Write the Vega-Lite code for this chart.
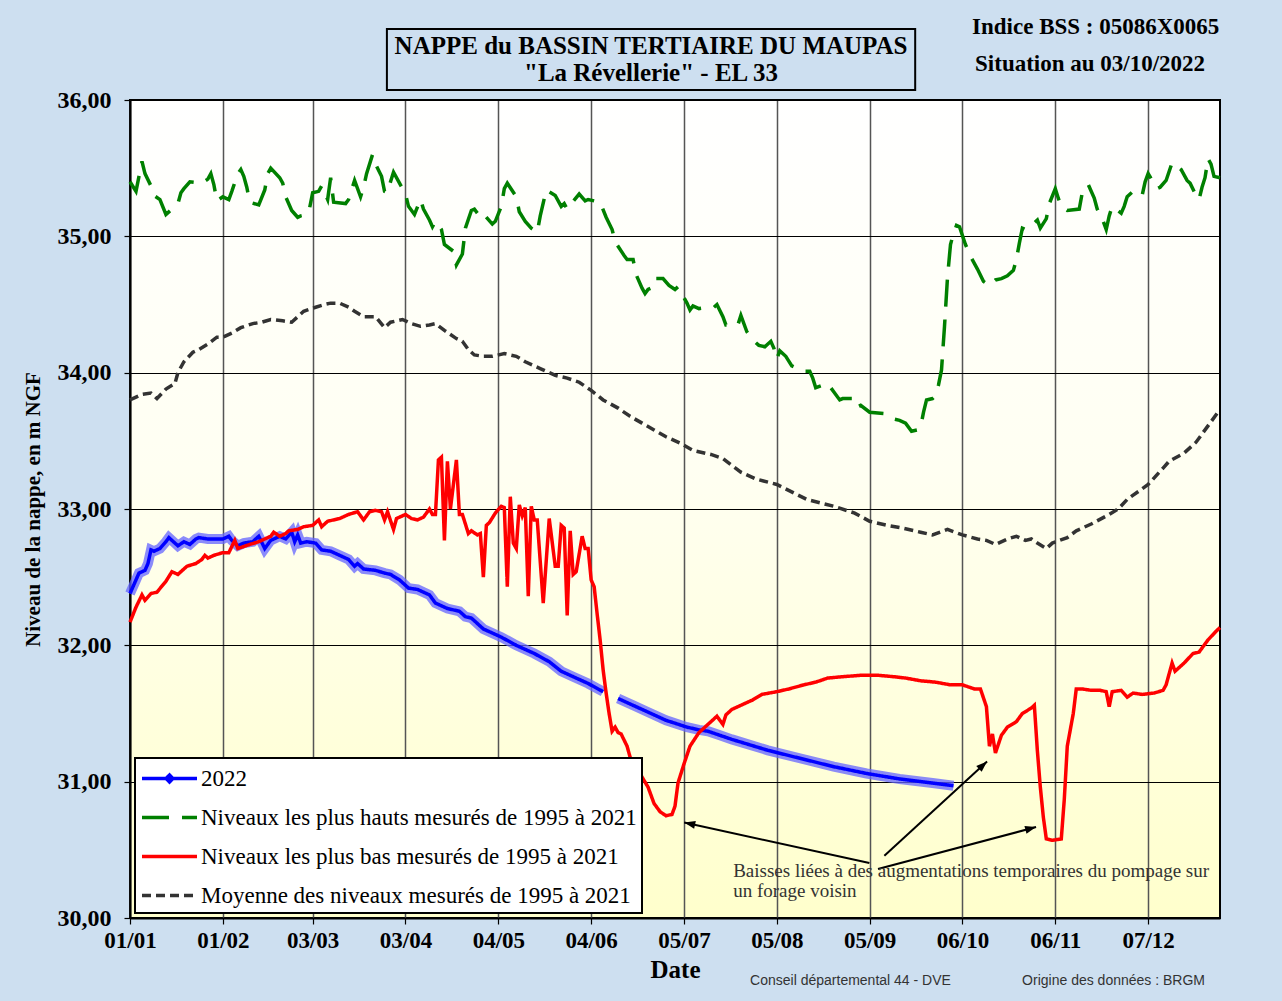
{
"$schema": "https://vega.github.io/schema/vega-lite/v6.json",
"width": 1090, "height": 818,
"autosize": {"type": "none"},
"padding": {"left": 130, "top": 100, "right": 62, "bottom": 83},
"background": "#cddff0",
"config": {
  "font": "Liberation Serif",
  "view": {"stroke": "#000000", "strokeWidth": 2, "fill": {"gradient": "linear", "x1": 0, "y1": 0, "x2": 0, "y2": 1, "stops": [{"offset": 0, "color": "#ffffff"}, {"offset": 0.45, "color": "#fffff2"}, {"offset": 1, "color": "#ffffcc"}]}},
  "axis": {"labelFont": "Liberation Serif", "labelFontWeight": "bold", "labelColor": "#000000", "titleFont": "Liberation Serif", "titleFontWeight": "bold", "titleColor": "#000000", "domainColor": "#000000", "domainWidth": 2, "tickColor": "#000000", "tickSize": 6, "tickWidth": 1.2},
  "legend": {"orient": "bottom-left", "offset": 5, "fillColor": "#ffffff", "strokeColor": "#000000", "padding": 5, "labelFont": "Liberation Serif", "labelFontSize": 23, "labelColor": "#000000", "labelLimit": 700, "symbolType": "M-2,0H2", "symbolSize": 756, "symbolStrokeWidth": 3.5, "symbolOffset": 14, "labelOffset": 16, "rowPadding": 11}
},
"data": {"values": [
{"serie":"2022","date":"2022-01-01","niveau":32.38},{"serie":"2022","date":"2022-01-03","niveau":32.48},{"serie":"2022","date":"2022-01-04","niveau":32.53},{"serie":"2022","date":"2022-01-06","niveau":32.55},{"serie":"2022","date":"2022-01-07","niveau":32.60},{"serie":"2022","date":"2022-01-08","niveau":32.70},{"serie":"2022","date":"2022-01-09","niveau":32.69},{"serie":"2022","date":"2022-01-11","niveau":32.71},{"serie":"2022","date":"2022-01-13","niveau":32.76},{"serie":"2022","date":"2022-01-14","niveau":32.79},{"serie":"2022","date":"2022-01-16","niveau":32.75},{"serie":"2022","date":"2022-01-17","niveau":32.73},{"serie":"2022","date":"2022-01-19","niveau":32.76},{"serie":"2022","date":"2022-01-21","niveau":32.74},{"serie":"2022","date":"2022-01-23","niveau":32.78},{"serie":"2022","date":"2022-01-24","niveau":32.79},{"serie":"2022","date":"2022-01-27","niveau":32.78},{"serie":"2022","date":"2022-01-30","niveau":32.78},{"serie":"2022","date":"2022-02-01","niveau":32.78},{"serie":"2022","date":"2022-02-03","niveau":32.80},{"serie":"2022","date":"2022-02-04","niveau":32.77},{"serie":"2022","date":"2022-02-06","niveau":32.73},{"serie":"2022","date":"2022-02-08","niveau":32.75},{"serie":"2022","date":"2022-02-11","niveau":32.76},{"serie":"2022","date":"2022-02-13","niveau":32.80},{"serie":"2022","date":"2022-02-15","niveau":32.71},{"serie":"2022","date":"2022-02-17","niveau":32.77},{"serie":"2022","date":"2022-02-20","niveau":32.80},{"serie":"2022","date":"2022-02-22","niveau":32.78},{"serie":"2022","date":"2022-02-24","niveau":32.83},{"serie":"2022","date":"2022-02-25","niveau":32.76},{"serie":"2022","date":"2022-02-26","niveau":32.81},{"serie":"2022","date":"2022-02-27","niveau":32.75},{"serie":"2022","date":"2022-03-01","niveau":32.76},{"serie":"2022","date":"2022-03-04","niveau":32.75},{"serie":"2022","date":"2022-03-06","niveau":32.70},{"serie":"2022","date":"2022-03-09","niveau":32.69},{"serie":"2022","date":"2022-03-12","niveau":32.66},{"serie":"2022","date":"2022-03-15","niveau":32.63},{"serie":"2022","date":"2022-03-17","niveau":32.58},{"serie":"2022","date":"2022-03-18","niveau":32.60},{"serie":"2022","date":"2022-03-20","niveau":32.56},{"serie":"2022","date":"2022-03-24","niveau":32.55},{"serie":"2022","date":"2022-03-27","niveau":32.53},{"serie":"2022","date":"2022-03-29","niveau":32.52},{"serie":"2022","date":"2022-04-01","niveau":32.48},{"serie":"2022","date":"2022-04-04","niveau":32.42},{"serie":"2022","date":"2022-04-07","niveau":32.41},{"serie":"2022","date":"2022-04-11","niveau":32.37},{"serie":"2022","date":"2022-04-13","niveau":32.31},{"serie":"2022","date":"2022-04-17","niveau":32.27},{"serie":"2022","date":"2022-04-21","niveau":32.25},{"serie":"2022","date":"2022-04-23","niveau":32.21},{"serie":"2022","date":"2022-04-25","niveau":32.20},{"serie":"2022","date":"2022-04-29","niveau":32.12},{"serie":"2022","date":"2022-05-05","niveau":32.06},{"serie":"2022","date":"2022-05-10","niveau":32.00},{"serie":"2022","date":"2022-05-16","niveau":31.94},{"serie":"2022","date":"2022-05-21","niveau":31.88},{"serie":"2022","date":"2022-05-25","niveau":31.81},{"serie":"2022","date":"2022-05-29","niveau":31.77},{"serie":"2022","date":"2022-06-03","niveau":31.72},{"serie":"2022","date":"2022-06-08","niveau":31.66},{"serie":"2022","date":"2022-06-10","niveau":null},{"serie":"2022","date":"2022-06-13","niveau":31.61},{"serie":"2022","date":"2022-06-18","niveau":31.56},{"serie":"2022","date":"2022-06-24","niveau":31.50},{"serie":"2022","date":"2022-06-29","niveau":31.45},{"serie":"2022","date":"2022-07-06","niveau":31.40},{"serie":"2022","date":"2022-07-10","niveau":31.38},{"serie":"2022","date":"2022-07-13","niveau":31.37},{"serie":"2022","date":"2022-07-17","niveau":31.34},{"serie":"2022","date":"2022-07-21","niveau":31.31},{"serie":"2022","date":"2022-08-02","niveau":31.23},{"serie":"2022","date":"2022-08-13","niveau":31.17},{"serie":"2022","date":"2022-08-24","niveau":31.11},{"serie":"2022","date":"2022-09-04","niveau":31.06},{"serie":"2022","date":"2022-09-15","niveau":31.02},{"serie":"2022","date":"2022-09-26","niveau":30.99},{"serie":"2022","date":"2022-10-03","niveau":30.97},
{"serie":"max","date":"2022-01-01","niveau":35.40},{"serie":"max","date":"2022-01-03","niveau":35.33},{"serie":"max","date":"2022-01-04","niveau":35.44},{"serie":"max","date":"2022-01-05","niveau":35.55},{"serie":"max","date":"2022-01-06","niveau":35.46},{"serie":"max","date":"2022-01-08","niveau":35.37},{"serie":"max","date":"2022-01-09","niveau":35.30},{"serie":"max","date":"2022-01-11","niveau":35.27},{"serie":"max","date":"2022-01-13","niveau":35.16},{"serie":"max","date":"2022-01-17","niveau":35.24},{"serie":"max","date":"2022-01-18","niveau":35.32},{"serie":"max","date":"2022-01-19","niveau":35.35},{"serie":"max","date":"2022-01-21","niveau":35.40},{"serie":"max","date":"2022-01-25","niveau":35.39},{"serie":"max","date":"2022-01-27","niveau":35.42},{"serie":"max","date":"2022-01-28","niveau":35.46},{"serie":"max","date":"2022-01-29","niveau":35.38},{"serie":"max","date":"2022-01-30","niveau":35.26},{"serie":"max","date":"2022-02-01","niveau":35.29},{"serie":"max","date":"2022-02-03","niveau":35.27},{"serie":"max","date":"2022-02-04","niveau":35.33},{"serie":"max","date":"2022-02-06","niveau":35.46},{"serie":"max","date":"2022-02-07","niveau":35.49},{"serie":"max","date":"2022-02-08","niveau":35.44},{"serie":"max","date":"2022-02-09","niveau":35.36},{"serie":"max","date":"2022-02-10","niveau":35.25},{"serie":"max","date":"2022-02-13","niveau":35.23},{"serie":"max","date":"2022-02-15","niveau":35.34},{"serie":"max","date":"2022-02-16","niveau":35.46},{"serie":"max","date":"2022-02-17","niveau":35.50},{"serie":"max","date":"2022-02-20","niveau":35.43},{"serie":"max","date":"2022-02-21","niveau":35.39},{"serie":"max","date":"2022-02-22","niveau":35.29},{"serie":"max","date":"2022-02-24","niveau":35.19},{"serie":"max","date":"2022-02-26","niveau":35.14},{"serie":"max","date":"2022-02-27","niveau":35.15},{"serie":"max","date":"2022-03-01","niveau":35.16},{"serie":"max","date":"2022-03-02","niveau":35.21},{"serie":"max","date":"2022-03-03","niveau":35.32},{"serie":"max","date":"2022-03-05","niveau":35.33},{"serie":"max","date":"2022-03-06","niveau":35.37},{"serie":"max","date":"2022-03-08","niveau":35.27},{"serie":"max","date":"2022-03-09","niveau":35.43},{"serie":"max","date":"2022-03-10","niveau":35.25},{"serie":"max","date":"2022-03-14","niveau":35.24},{"serie":"max","date":"2022-03-15","niveau":35.27},{"serie":"max","date":"2022-03-17","niveau":35.41},{"serie":"max","date":"2022-03-19","niveau":35.29},{"serie":"max","date":"2022-03-20","niveau":35.36},{"serie":"max","date":"2022-03-21","niveau":35.46},{"serie":"max","date":"2022-03-23","niveau":35.60},{"serie":"max","date":"2022-03-24","niveau":35.53},{"serie":"max","date":"2022-03-26","niveau":35.44},{"serie":"max","date":"2022-03-27","niveau":35.33},{"serie":"max","date":"2022-03-28","niveau":35.32},{"serie":"max","date":"2022-03-29","niveau":35.40},{"serie":"max","date":"2022-03-30","niveau":35.47},{"serie":"max","date":"2022-04-01","niveau":35.39},{"serie":"max","date":"2022-04-03","niveau":35.31},{"serie":"max","date":"2022-04-04","niveau":35.22},{"serie":"max","date":"2022-04-06","niveau":35.16},{"serie":"max","date":"2022-04-08","niveau":35.27},{"serie":"max","date":"2022-04-09","niveau":35.20},{"serie":"max","date":"2022-04-11","niveau":35.12},{"serie":"max","date":"2022-04-12","niveau":35.07},{"serie":"max","date":"2022-04-13","niveau":35.11},{"serie":"max","date":"2022-04-15","niveau":35.05},{"serie":"max","date":"2022-04-16","niveau":34.94},{"serie":"max","date":"2022-04-19","niveau":34.89},{"serie":"max","date":"2022-04-20","niveau":34.79},{"serie":"max","date":"2022-04-22","niveau":34.87},{"serie":"max","date":"2022-04-23","niveau":35.06},{"serie":"max","date":"2022-04-25","niveau":35.19},{"serie":"max","date":"2022-04-26","niveau":35.20},{"serie":"max","date":"2022-04-27","niveau":35.17},{"serie":"max","date":"2022-04-28","niveau":35.19},{"serie":"max","date":"2022-05-02","niveau":35.09},{"serie":"max","date":"2022-05-03","niveau":35.11},{"serie":"max","date":"2022-05-05","niveau":35.22},{"serie":"max","date":"2022-05-06","niveau":35.35},{"serie":"max","date":"2022-05-07","niveau":35.39},{"serie":"max","date":"2022-05-10","niveau":35.29},{"serie":"max","date":"2022-05-11","niveau":35.18},{"serie":"max","date":"2022-05-13","niveau":35.11},{"serie":"max","date":"2022-05-15","niveau":35.06},{"serie":"max","date":"2022-05-17","niveau":35.03},{"serie":"max","date":"2022-05-18","niveau":35.15},{"serie":"max","date":"2022-05-20","niveau":35.34},{"serie":"max","date":"2022-05-23","niveau":35.30},{"serie":"max","date":"2022-05-25","niveau":35.22},{"serie":"max","date":"2022-05-26","niveau":35.24},{"serie":"max","date":"2022-05-27","niveau":35.20},{"serie":"max","date":"2022-05-28","niveau":35.23},{"serie":"max","date":"2022-05-31","niveau":35.31},{"serie":"max","date":"2022-06-02","niveau":35.26},{"serie":"max","date":"2022-06-03","niveau":35.27},{"serie":"max","date":"2022-06-07","niveau":35.25},{"serie":"max","date":"2022-06-09","niveau":35.14},{"serie":"max","date":"2022-06-11","niveau":35.05},{"serie":"max","date":"2022-06-12","niveau":34.96},{"serie":"max","date":"2022-06-15","niveau":34.86},{"serie":"max","date":"2022-06-16","niveau":34.83},{"serie":"max","date":"2022-06-18","niveau":34.83},{"serie":"max","date":"2022-06-19","niveau":34.72},{"serie":"max","date":"2022-06-21","niveau":34.62},{"serie":"max","date":"2022-06-22","niveau":34.58},{"serie":"max","date":"2022-06-23","niveau":34.61},{"serie":"max","date":"2022-06-24","niveau":34.62},{"serie":"max","date":"2022-06-25","niveau":34.69},{"serie":"max","date":"2022-06-28","niveau":34.69},{"serie":"max","date":"2022-06-30","niveau":34.64},{"serie":"max","date":"2022-07-02","niveau":34.61},{"serie":"max","date":"2022-07-03","niveau":34.63},{"serie":"max","date":"2022-07-04","niveau":34.59},{"serie":"max","date":"2022-07-06","niveau":34.51},{"serie":"max","date":"2022-07-07","niveau":34.46},{"serie":"max","date":"2022-07-08","niveau":34.49},{"serie":"max","date":"2022-07-10","niveau":34.47},{"serie":"max","date":"2022-07-13","niveau":34.48},{"serie":"max","date":"2022-07-15","niveau":34.48},{"serie":"max","date":"2022-07-16","niveau":34.50},{"serie":"max","date":"2022-07-18","niveau":34.41},{"serie":"max","date":"2022-07-19","niveau":34.35},{"serie":"max","date":"2022-07-23","niveau":34.35},{"serie":"max","date":"2022-07-24","niveau":34.42},{"serie":"max","date":"2022-07-26","niveau":34.30},{"serie":"max","date":"2022-07-28","niveau":34.24},{"serie":"max","date":"2022-07-30","niveau":34.20},{"serie":"max","date":"2022-08-01","niveau":34.19},{"serie":"max","date":"2022-08-03","niveau":34.23},{"serie":"max","date":"2022-08-04","niveau":34.18},{"serie":"max","date":"2022-08-05","niveau":34.10},{"serie":"max","date":"2022-08-06","niveau":34.16},{"serie":"max","date":"2022-08-08","niveau":34.12},{"serie":"max","date":"2022-08-10","niveau":34.05},{"serie":"max","date":"2022-08-14","niveau":34.01},{"serie":"max","date":"2022-08-16","niveau":34.01},{"serie":"max","date":"2022-08-17","niveau":33.96},{"serie":"max","date":"2022-08-18","niveau":33.89},{"serie":"max","date":"2022-08-22","niveau":33.92},{"serie":"max","date":"2022-08-24","niveau":33.86},{"serie":"max","date":"2022-08-26","niveau":33.80},{"serie":"max","date":"2022-08-27","niveau":33.81},{"serie":"max","date":"2022-08-31","niveau":33.81},{"serie":"max","date":"2022-09-01","niveau":33.75},{"serie":"max","date":"2022-09-02","niveau":33.76},{"serie":"max","date":"2022-09-05","niveau":33.71},{"serie":"max","date":"2022-09-10","niveau":33.70},{"serie":"max","date":"2022-09-13","niveau":33.66},{"serie":"max","date":"2022-09-15","niveau":33.65},{"serie":"max","date":"2022-09-17","niveau":33.63},{"serie":"max","date":"2022-09-19","niveau":33.57},{"serie":"max","date":"2022-09-21","niveau":33.58},{"serie":"max","date":"2022-09-22","niveau":33.60},{"serie":"max","date":"2022-09-23","niveau":33.71},{"serie":"max","date":"2022-09-24","niveau":33.80},{"serie":"max","date":"2022-09-26","niveau":33.81},{"serie":"max","date":"2022-09-27","niveau":33.83},{"serie":"max","date":"2022-09-28","niveau":33.91},{"serie":"max","date":"2022-09-29","niveau":34.02},{"serie":"max","date":"2022-09-30","niveau":34.34},{"serie":"max","date":"2022-10-01","niveau":34.70},{"serie":"max","date":"2022-10-02","niveau":34.94},{"serie":"max","date":"2022-10-03","niveau":35.02},{"serie":"max","date":"2022-10-04","niveau":35.08},{"serie":"max","date":"2022-10-05","niveau":35.07},{"serie":"max","date":"2022-10-07","niveau":34.94},{"serie":"max","date":"2022-10-09","niveau":34.84},{"serie":"max","date":"2022-10-11","niveau":34.76},{"serie":"max","date":"2022-10-13","niveau":34.67},{"serie":"max","date":"2022-10-15","niveau":34.64},{"serie":"max","date":"2022-10-17","niveau":34.68},{"serie":"max","date":"2022-10-19","niveau":34.69},{"serie":"max","date":"2022-10-21","niveau":34.71},{"serie":"max","date":"2022-10-23","niveau":34.75},{"serie":"max","date":"2022-10-24","niveau":34.83},{"serie":"max","date":"2022-10-25","niveau":34.95},{"serie":"max","date":"2022-10-26","niveau":35.06},{"serie":"max","date":"2022-10-27","niveau":35.05},{"serie":"max","date":"2022-10-29","niveau":35.08},{"serie":"max","date":"2022-10-31","niveau":35.12},{"serie":"max","date":"2022-11-01","niveau":35.06},{"serie":"max","date":"2022-11-03","niveau":35.13},{"serie":"max","date":"2022-11-04","niveau":35.24},{"serie":"max","date":"2022-11-06","niveau":35.35},{"serie":"max","date":"2022-11-07","niveau":35.28},{"serie":"max","date":"2022-11-08","niveau":35.22},{"serie":"max","date":"2022-11-10","niveau":35.19},{"serie":"max","date":"2022-11-14","niveau":35.20},{"serie":"max","date":"2022-11-15","niveau":35.32},{"serie":"max","date":"2022-11-17","niveau":35.38},{"serie":"max","date":"2022-11-19","niveau":35.28},{"serie":"max","date":"2022-11-20","niveau":35.20},{"serie":"max","date":"2022-11-22","niveau":35.11},{"serie":"max","date":"2022-11-23","niveau":35.05},{"serie":"max","date":"2022-11-24","niveau":35.15},{"serie":"max","date":"2022-11-25","niveau":35.22},{"serie":"max","date":"2022-11-28","niveau":35.17},{"serie":"max","date":"2022-11-29","niveau":35.22},{"serie":"max","date":"2022-11-30","niveau":35.29},{"serie":"max","date":"2022-12-02","niveau":35.33},{"serie":"max","date":"2022-12-05","niveau":35.30},{"serie":"max","date":"2022-12-06","niveau":35.40},{"serie":"max","date":"2022-12-07","niveau":35.46},{"serie":"max","date":"2022-12-10","niveau":35.35},{"serie":"max","date":"2022-12-11","niveau":35.36},{"serie":"max","date":"2022-12-13","niveau":35.41},{"serie":"max","date":"2022-12-15","niveau":35.54},{"serie":"max","date":"2022-12-18","niveau":35.49},{"serie":"max","date":"2022-12-20","niveau":35.41},{"serie":"max","date":"2022-12-21","niveau":35.39},{"serie":"max","date":"2022-12-23","niveau":35.30},{"serie":"max","date":"2022-12-24","niveau":35.27},{"serie":"max","date":"2022-12-25","niveau":35.36},{"serie":"max","date":"2022-12-26","niveau":35.43},{"serie":"max","date":"2022-12-27","niveau":35.57},{"serie":"max","date":"2022-12-28","niveau":35.53},{"serie":"max","date":"2022-12-29","niveau":35.44},{"serie":"max","date":"2022-12-31","niveau":35.43},
{"serie":"min","date":"2022-01-01","niveau":32.17},{"serie":"min","date":"2022-01-03","niveau":32.28},{"serie":"min","date":"2022-01-05","niveau":32.37},{"serie":"min","date":"2022-01-06","niveau":32.33},{"serie":"min","date":"2022-01-08","niveau":32.38},{"serie":"min","date":"2022-01-10","niveau":32.39},{"serie":"min","date":"2022-01-13","niveau":32.47},{"serie":"min","date":"2022-01-15","niveau":32.54},{"serie":"min","date":"2022-01-17","niveau":32.52},{"serie":"min","date":"2022-01-20","niveau":32.58},{"serie":"min","date":"2022-01-23","niveau":32.60},{"serie":"min","date":"2022-01-25","niveau":32.63},{"serie":"min","date":"2022-01-26","niveau":32.66},{"serie":"min","date":"2022-01-27","niveau":32.64},{"serie":"min","date":"2022-01-29","niveau":32.66},{"serie":"min","date":"2022-02-01","niveau":32.68},{"serie":"min","date":"2022-02-03","niveau":32.68},{"serie":"min","date":"2022-02-05","niveau":32.77},{"serie":"min","date":"2022-02-06","niveau":32.71},{"serie":"min","date":"2022-02-10","niveau":32.74},{"serie":"min","date":"2022-02-13","niveau":32.76},{"serie":"min","date":"2022-02-15","niveau":32.78},{"serie":"min","date":"2022-02-17","niveau":32.80},{"serie":"min","date":"2022-02-18","niveau":32.83},{"serie":"min","date":"2022-02-20","niveau":32.80},{"serie":"min","date":"2022-02-22","niveau":32.82},{"serie":"min","date":"2022-02-23","niveau":32.84},{"serie":"min","date":"2022-02-26","niveau":32.85},{"serie":"min","date":"2022-02-28","niveau":32.87},{"serie":"min","date":"2022-03-03","niveau":32.88},{"serie":"min","date":"2022-03-05","niveau":32.92},{"serie":"min","date":"2022-03-06","niveau":32.87},{"serie":"min","date":"2022-03-08","niveau":32.91},{"serie":"min","date":"2022-03-12","niveau":32.93},{"serie":"min","date":"2022-03-15","niveau":32.96},{"serie":"min","date":"2022-03-18","niveau":32.98},{"serie":"min","date":"2022-03-20","niveau":32.92},{"serie":"min","date":"2022-03-22","niveau":32.98},{"serie":"min","date":"2022-03-24","niveau":32.99},{"serie":"min","date":"2022-03-26","niveau":32.98},{"serie":"min","date":"2022-03-27","niveau":32.92},{"serie":"min","date":"2022-03-28","niveau":32.98},{"serie":"min","date":"2022-03-30","niveau":32.85},{"serie":"min","date":"2022-03-31","niveau":32.93},{"serie":"min","date":"2022-04-03","niveau":32.96},{"serie":"min","date":"2022-04-05","niveau":32.93},{"serie":"min","date":"2022-04-07","niveau":32.92},{"serie":"min","date":"2022-04-09","niveau":32.94},{"serie":"min","date":"2022-04-11","niveau":33.00},{"serie":"min","date":"2022-04-12","niveau":32.96},{"serie":"min","date":"2022-04-13","niveau":32.96},{"serie":"min","date":"2022-04-14","niveau":33.36},{"serie":"min","date":"2022-04-15","niveau":33.38},{"serie":"min","date":"2022-04-16","niveau":32.77},{"serie":"min","date":"2022-04-17","niveau":33.35},{"serie":"min","date":"2022-04-18","niveau":33.00},{"serie":"min","date":"2022-04-20","niveau":33.36},{"serie":"min","date":"2022-04-21","niveau":32.96},{"serie":"min","date":"2022-04-22","niveau":32.96},{"serie":"min","date":"2022-04-24","niveau":32.82},{"serie":"min","date":"2022-04-25","niveau":32.84},{"serie":"min","date":"2022-04-27","niveau":32.81},{"serie":"min","date":"2022-04-28","niveau":32.82},{"serie":"min","date":"2022-04-29","niveau":32.50},{"serie":"min","date":"2022-04-30","niveau":32.88},{"serie":"min","date":"2022-05-01","niveau":32.90},{"serie":"min","date":"2022-05-03","niveau":32.97},{"serie":"min","date":"2022-05-05","niveau":33.02},{"serie":"min","date":"2022-05-06","niveau":33.01},{"serie":"min","date":"2022-05-07","niveau":32.43},{"serie":"min","date":"2022-05-08","niveau":33.09},{"serie":"min","date":"2022-05-09","niveau":32.75},{"serie":"min","date":"2022-05-10","niveau":32.71},{"serie":"min","date":"2022-05-11","niveau":33.03},{"serie":"min","date":"2022-05-12","niveau":32.95},{"serie":"min","date":"2022-05-13","niveau":33.01},{"serie":"min","date":"2022-05-14","niveau":32.36},{"serie":"min","date":"2022-05-15","niveau":33.02},{"serie":"min","date":"2022-05-16","niveau":32.92},{"serie":"min","date":"2022-05-17","niveau":32.92},{"serie":"min","date":"2022-05-19","niveau":32.31},{"serie":"min","date":"2022-05-21","niveau":32.93},{"serie":"min","date":"2022-05-23","niveau":32.58},{"serie":"min","date":"2022-05-24","niveau":32.58},{"serie":"min","date":"2022-05-25","niveau":32.88},{"serie":"min","date":"2022-05-26","niveau":32.86},{"serie":"min","date":"2022-05-27","niveau":32.22},{"serie":"min","date":"2022-05-28","niveau":32.84},{"serie":"min","date":"2022-05-29","niveau":32.52},{"serie":"min","date":"2022-05-30","niveau":32.54},{"serie":"min","date":"2022-06-01","niveau":32.80},{"serie":"min","date":"2022-06-02","niveau":32.71},{"serie":"min","date":"2022-06-03","niveau":32.71},{"serie":"min","date":"2022-06-04","niveau":32.48},{"serie":"min","date":"2022-06-05","niveau":32.43},{"serie":"min","date":"2022-06-06","niveau":32.23},{"serie":"min","date":"2022-06-07","niveau":32.04},{"serie":"min","date":"2022-06-08","niveau":31.82},{"serie":"min","date":"2022-06-09","niveau":31.65},{"serie":"min","date":"2022-06-10","niveau":31.50},{"serie":"min","date":"2022-06-11","niveau":31.37},{"serie":"min","date":"2022-06-12","niveau":31.40},{"serie":"min","date":"2022-06-13","niveau":31.36},{"serie":"min","date":"2022-06-14","niveau":31.35},{"serie":"min","date":"2022-06-16","niveau":31.26},{"serie":"min","date":"2022-06-17","niveau":31.18},{"serie":"min","date":"2022-06-23","niveau":30.96},{"serie":"min","date":"2022-06-25","niveau":30.84},{"serie":"min","date":"2022-06-27","niveau":30.78},{"serie":"min","date":"2022-06-29","niveau":30.75},{"serie":"min","date":"2022-07-01","niveau":30.76},{"serie":"min","date":"2022-07-02","niveau":30.82},{"serie":"min","date":"2022-07-03","niveau":30.99},{"serie":"min","date":"2022-07-05","niveau":31.13},{"serie":"min","date":"2022-07-07","niveau":31.26},{"serie":"min","date":"2022-07-10","niveau":31.36},{"serie":"min","date":"2022-07-14","niveau":31.44},{"serie":"min","date":"2022-07-16","niveau":31.48},{"serie":"min","date":"2022-07-18","niveau":31.42},{"serie":"min","date":"2022-07-19","niveau":31.49},{"serie":"min","date":"2022-07-21","niveau":31.53},{"serie":"min","date":"2022-07-25","niveau":31.57},{"serie":"min","date":"2022-07-28","niveau":31.60},{"serie":"min","date":"2022-07-31","niveau":31.64},{"serie":"min","date":"2022-08-05","niveau":31.66},{"serie":"min","date":"2022-08-09","niveau":31.68},{"serie":"min","date":"2022-08-14","niveau":31.71},{"serie":"min","date":"2022-08-18","niveau":31.73},{"serie":"min","date":"2022-08-22","niveau":31.76},{"serie":"min","date":"2022-08-27","niveau":31.77},{"serie":"min","date":"2022-09-02","niveau":31.78},{"serie":"min","date":"2022-09-08","niveau":31.78},{"serie":"min","date":"2022-09-13","niveau":31.77},{"serie":"min","date":"2022-09-17","niveau":31.76},{"serie":"min","date":"2022-09-22","niveau":31.74},{"serie":"min","date":"2022-09-27","niveau":31.73},{"serie":"min","date":"2022-10-02","niveau":31.71},{"serie":"min","date":"2022-10-06","niveau":31.71},{"serie":"min","date":"2022-10-10","niveau":31.68},{"serie":"min","date":"2022-10-12","niveau":31.68},{"serie":"min","date":"2022-10-14","niveau":31.55},{"serie":"min","date":"2022-10-15","niveau":31.26},{"serie":"min","date":"2022-10-16","niveau":31.35},{"serie":"min","date":"2022-10-17","niveau":31.21},{"serie":"min","date":"2022-10-19","niveau":31.34},{"serie":"min","date":"2022-10-21","niveau":31.40},{"serie":"min","date":"2022-10-24","niveau":31.44},{"serie":"min","date":"2022-10-26","niveau":31.50},{"serie":"min","date":"2022-10-29","niveau":31.54},{"serie":"min","date":"2022-10-30","niveau":31.56},{"serie":"min","date":"2022-10-31","niveau":31.23},{"serie":"min","date":"2022-11-01","niveau":30.96},{"serie":"min","date":"2022-11-02","niveau":30.74},{"serie":"min","date":"2022-11-03","niveau":30.58},{"serie":"min","date":"2022-11-05","niveau":30.57},{"serie":"min","date":"2022-11-08","niveau":30.58},{"serie":"min","date":"2022-11-09","niveau":30.87},{"serie":"min","date":"2022-11-10","niveau":31.26},{"serie":"min","date":"2022-11-12","niveau":31.50},{"serie":"min","date":"2022-11-13","niveau":31.68},{"serie":"min","date":"2022-11-15","niveau":31.68},{"serie":"min","date":"2022-11-18","niveau":31.67},{"serie":"min","date":"2022-11-21","niveau":31.67},{"serie":"min","date":"2022-11-23","niveau":31.66},{"serie":"min","date":"2022-11-24","niveau":31.55},{"serie":"min","date":"2022-11-25","niveau":31.66},{"serie":"min","date":"2022-11-28","niveau":31.67},{"serie":"min","date":"2022-11-30","niveau":31.62},{"serie":"min","date":"2022-12-02","niveau":31.65},{"serie":"min","date":"2022-12-05","niveau":31.64},{"serie":"min","date":"2022-12-09","niveau":31.65},{"serie":"min","date":"2022-12-12","niveau":31.67},{"serie":"min","date":"2022-12-13","niveau":31.71},{"serie":"min","date":"2022-12-15","niveau":31.87},{"serie":"min","date":"2022-12-16","niveau":31.81},{"serie":"min","date":"2022-12-19","niveau":31.87},{"serie":"min","date":"2022-12-22","niveau":31.94},{"serie":"min","date":"2022-12-24","niveau":31.95},{"serie":"min","date":"2022-12-27","niveau":32.04},{"serie":"min","date":"2022-12-30","niveau":32.11},{"serie":"min","date":"2022-12-31","niveau":32.13},
{"serie":"moyenne","date":"2022-01-01","niveau":33.80},{"serie":"moyenne","date":"2022-01-05","niveau":33.84},{"serie":"moyenne","date":"2022-01-08","niveau":33.85},{"serie":"moyenne","date":"2022-01-10","niveau":33.81},{"serie":"moyenne","date":"2022-01-13","niveau":33.88},{"serie":"moyenne","date":"2022-01-16","niveau":33.92},{"serie":"moyenne","date":"2022-01-17","niveau":34.00},{"serie":"moyenne","date":"2022-01-19","niveau":34.08},{"serie":"moyenne","date":"2022-01-22","niveau":34.15},{"serie":"moyenne","date":"2022-01-24","niveau":34.17},{"serie":"moyenne","date":"2022-01-27","niveau":34.21},{"serie":"moyenne","date":"2022-01-30","niveau":34.26},{"serie":"moyenne","date":"2022-02-01","niveau":34.26},{"serie":"moyenne","date":"2022-02-04","niveau":34.29},{"serie":"moyenne","date":"2022-02-07","niveau":34.33},{"serie":"moyenne","date":"2022-02-11","niveau":34.36},{"serie":"moyenne","date":"2022-02-14","niveau":34.37},{"serie":"moyenne","date":"2022-02-17","niveau":34.39},{"serie":"moyenne","date":"2022-02-21","niveau":34.38},{"serie":"moyenne","date":"2022-02-24","niveau":34.37},{"serie":"moyenne","date":"2022-02-26","niveau":34.41},{"serie":"moyenne","date":"2022-02-28","niveau":34.45},{"serie":"moyenne","date":"2022-03-04","niveau":34.48},{"serie":"moyenne","date":"2022-03-07","niveau":34.50},{"serie":"moyenne","date":"2022-03-09","niveau":34.51},{"serie":"moyenne","date":"2022-03-12","niveau":34.51},{"serie":"moyenne","date":"2022-03-15","niveau":34.48},{"serie":"moyenne","date":"2022-03-17","niveau":34.45},{"serie":"moyenne","date":"2022-03-20","niveau":34.41},{"serie":"moyenne","date":"2022-03-24","niveau":34.41},{"serie":"moyenne","date":"2022-03-27","niveau":34.33},{"serie":"moyenne","date":"2022-03-29","niveau":34.37},{"serie":"moyenne","date":"2022-04-02","niveau":34.39},{"serie":"moyenne","date":"2022-04-05","niveau":34.36},{"serie":"moyenne","date":"2022-04-08","niveau":34.34},{"serie":"moyenne","date":"2022-04-11","niveau":34.35},{"serie":"moyenne","date":"2022-04-13","niveau":34.36},{"serie":"moyenne","date":"2022-04-16","niveau":34.31},{"serie":"moyenne","date":"2022-04-20","niveau":34.25},{"serie":"moyenne","date":"2022-04-22","niveau":34.23},{"serie":"moyenne","date":"2022-04-24","niveau":34.17},{"serie":"moyenne","date":"2022-04-26","niveau":34.13},{"serie":"moyenne","date":"2022-04-29","niveau":34.12},{"serie":"moyenne","date":"2022-05-02","niveau":34.12},{"serie":"moyenne","date":"2022-05-06","niveau":34.14},{"serie":"moyenne","date":"2022-05-10","niveau":34.12},{"serie":"moyenne","date":"2022-05-13","niveau":34.08},{"serie":"moyenne","date":"2022-05-18","niveau":34.03},{"serie":"moyenne","date":"2022-05-23","niveau":33.98},{"serie":"moyenne","date":"2022-05-27","niveau":33.96},{"serie":"moyenne","date":"2022-05-31","niveau":33.93},{"serie":"moyenne","date":"2022-06-04","niveau":33.87},{"serie":"moyenne","date":"2022-06-08","niveau":33.80},{"serie":"moyenne","date":"2022-06-13","niveau":33.74},{"serie":"moyenne","date":"2022-06-17","niveau":33.68},{"serie":"moyenne","date":"2022-06-21","niveau":33.63},{"serie":"moyenne","date":"2022-06-25","niveau":33.58},{"serie":"moyenne","date":"2022-06-29","niveau":33.53},{"serie":"moyenne","date":"2022-07-04","niveau":33.48},{"serie":"moyenne","date":"2022-07-08","niveau":33.43},{"serie":"moyenne","date":"2022-07-14","niveau":33.40},{"serie":"moyenne","date":"2022-07-18","niveau":33.37},{"serie":"moyenne","date":"2022-07-24","niveau":33.27},{"serie":"moyenne","date":"2022-07-29","niveau":33.22},{"serie":"moyenne","date":"2022-08-05","niveau":33.18},{"serie":"moyenne","date":"2022-08-15","niveau":33.07},{"serie":"moyenne","date":"2022-08-24","niveau":33.02},{"serie":"moyenne","date":"2022-08-31","niveau":32.97},{"serie":"moyenne","date":"2022-09-05","niveau":32.91},{"serie":"moyenne","date":"2022-09-11","niveau":32.88},{"serie":"moyenne","date":"2022-09-16","niveau":32.86},{"serie":"moyenne","date":"2022-09-22","niveau":32.83},{"serie":"moyenne","date":"2022-09-26","niveau":32.81},{"serie":"moyenne","date":"2022-10-01","niveau":32.85},{"serie":"moyenne","date":"2022-10-06","niveau":32.81},{"serie":"moyenne","date":"2022-10-11","niveau":32.78},{"serie":"moyenne","date":"2022-10-14","niveau":32.77},{"serie":"moyenne","date":"2022-10-17","niveau":32.74},{"serie":"moyenne","date":"2022-10-21","niveau":32.78},{"serie":"moyenne","date":"2022-10-24","niveau":32.80},{"serie":"moyenne","date":"2022-10-27","niveau":32.77},{"serie":"moyenne","date":"2022-10-29","niveau":32.78},{"serie":"moyenne","date":"2022-10-31","niveau":32.75},{"serie":"moyenne","date":"2022-11-03","niveau":32.71},{"serie":"moyenne","date":"2022-11-05","niveau":32.75},{"serie":"moyenne","date":"2022-11-10","niveau":32.79},{"serie":"moyenne","date":"2022-11-13","niveau":32.84},{"serie":"moyenne","date":"2022-11-18","niveau":32.89},{"serie":"moyenne","date":"2022-11-24","niveau":32.96},{"serie":"moyenne","date":"2022-11-27","niveau":33.00},{"serie":"moyenne","date":"2022-11-30","niveau":33.07},{"serie":"moyenne","date":"2022-12-07","niveau":33.18},{"serie":"moyenne","date":"2022-12-12","niveau":33.30},{"serie":"moyenne","date":"2022-12-14","niveau":33.35},{"serie":"moyenne","date":"2022-12-19","niveau":33.41},{"serie":"moyenne","date":"2022-12-23","niveau":33.49},{"serie":"moyenne","date":"2022-12-25","niveau":33.55},{"serie":"moyenne","date":"2022-12-30","niveau":33.70},{"serie":"moyenne","date":"2022-12-31","niveau":33.72}
]},
"layer": [
  {"data": {"values": [{}]}, "mark": {"type": "rect", "fill": "#f6f9fd", "fillOpacity": 0, "stroke": "#000000", "strokeWidth": 2},
   "encoding": {"x": {"datum": {"year": 2022, "month": 3, "date": 27, "hours": 19, "utc": true}, "type": "temporal"}, "x2": {"datum": {"year": 2022, "month": 9, "date": 20, "hours": 5, "utc": true}}, "y": {"datum": 36.521, "type": "quantitative"}, "y2": {"datum": 36.074}}},
  {"data": {"values": [{}]}, "mark": {"type": "text", "text": ["NAPPE du BASSIN TERTIAIRE DU MAUPAS", "\"La Révellerie\" - EL 33"], "align": "center", "baseline": "middle", "font": "Liberation Serif", "fontWeight": "bold", "fontSize": 25, "lineHeight": 27, "color": "#000000"},
   "encoding": {"x": {"datum": {"year": 2022, "month": 6, "date": 24, "utc": true}, "type": "temporal"}, "y": {"datum": 36.396, "type": "quantitative"}}},
  {"transform": [{"filter": {"field": "serie", "equal": "2022"}}],
   "mark": {"type": "line", "stroke": "#6464ff", "strokeWidth": 10, "opacity": 0.75, "invalid": "break-paths-show-domains"},
   "encoding": {
     "x": {"field": "date", "type": "temporal", "title": "Date", "scale": {"type": "utc", "domain": [{"year": 2022, "month": 1, "date": 1, "utc": true}, {"year": 2022, "month": 12, "date": 31, "utc": true}]}},
     "y": {"field": "niveau", "type": "quantitative", "title": "Niveau de la nappe, en m NGF", "scale": {"domain": [30, 36], "nice": false, "zero": false}}
   }},
  {"mark": {"type": "line", "strokeWidth": 3.5, "invalid": "break-paths-show-domains"},
   "encoding": {
     "x": {"field": "date", "type": "temporal", "title": "Date",
       "scale": {"type": "utc", "domain": [{"year": 2022, "month": 1, "date": 1, "utc": true}, {"year": 2022, "month": 12, "date": 31, "utc": true}]},
       "axis": {"values": [{"year": 2022, "month": 1, "date": 1, "utc": true}, {"year": 2022, "month": 2, "date": 1, "utc": true}, {"year": 2022, "month": 3, "date": 3, "utc": true}, {"year": 2022, "month": 4, "date": 3, "utc": true}, {"year": 2022, "month": 5, "date": 4, "utc": true}, {"year": 2022, "month": 6, "date": 4, "utc": true}, {"year": 2022, "month": 7, "date": 5, "utc": true}, {"year": 2022, "month": 8, "date": 5, "utc": true}, {"year": 2022, "month": 9, "date": 5, "utc": true}, {"year": 2022, "month": 10, "date": 6, "utc": true}, {"year": 2022, "month": 11, "date": 6, "utc": true}, {"year": 2022, "month": 12, "date": 7, "utc": true}],
         "format": "%d/%m", "labelFontSize": 23, "labelPadding": 5, "labelFlush": false, "labelOverlap": false, "grid": true, "gridColor": "#555555", "gridWidth": 1.5, "titleFontSize": 25, "titlePadding": 5}},
     "y": {"field": "niveau", "type": "quantitative", "title": "Niveau de la nappe, en m NGF",
       "scale": {"domain": [30, 36], "nice": false, "zero": false},
       "axis": {"values": [30, 31, 32, 33, 34, 35, 36], "labelExpr": "replace(format(datum.value, '.2f'), '.', ',')", "labelFontSize": 24, "labelPadding": 13, "grid": true, "gridColor": "#000000", "gridWidth": 1.2, "titleFontSize": 21, "titlePadding": 14}},
     "color": {"field": "serie", "type": "nominal", "title": null,
       "scale": {"domain": ["2022", "max", "min", "moyenne"], "range": ["#0000ff", "#008000", "#ff0000", "#333333"]},
       "legend": {"labelExpr": "datum.label == 'max' ? 'Niveaux les plus hauts mesurés de 1995 à 2021' : datum.label == 'min' ? 'Niveaux les plus bas mesurés de 1995 à 2021' : datum.label == 'moyenne' ? 'Moyenne des niveaux mesurés de 1995 à 2021' : datum.label",
         "encode": {"symbols": {"update": {"shape": {"signal": "datum.value == '2022' ? 'M-2,0H2M0,-0.25L0.25,0L0,0.25L-0.25,0Z' : 'M-2,0H2'"}}}, "legend": {"update": {"strokeWidth": {"value": 2}}}}}},
     "strokeDash": {"field": "serie", "type": "nominal", "title": null,
       "scale": {"domain": ["2022", "max", "min", "moyenne"], "range": [[1, 0], [27, 13], [1, 0], [9, 5]]}}
   }},
  {"data": {"values": [{}]}, "mark": {"type": "rule", "color": "#000000", "strokeWidth": 2},
   "encoding": {"x": {"datum": {"year": 2022, "month": 9, "date": 4, "hours": 22, "utc": true}, "type": "temporal"}, "y": {"datum": 30.404, "type": "quantitative"}, "x2": {"datum": {"year": 2022, "month": 7, "date": 5, "hours": 2, "utc": true}}, "y2": {"datum": 30.70}}},
  {"data": {"values": [{}]}, "mark": {"type": "rule", "color": "#000000", "strokeWidth": 2},
   "encoding": {"x": {"datum": {"year": 2022, "month": 9, "date": 9, "hours": 22, "utc": true}, "type": "temporal"}, "y": {"datum": 30.457, "type": "quantitative"}, "x2": {"datum": {"year": 2022, "month": 10, "date": 14, "hours": 5, "utc": true}}, "y2": {"datum": 31.148}}},
  {"data": {"values": [{}]}, "mark": {"type": "rule", "color": "#000000", "strokeWidth": 2},
   "encoding": {"x": {"datum": {"year": 2022, "month": 9, "date": 7, "hours": 19, "utc": true}, "type": "temporal"}, "y": {"datum": 30.36, "type": "quantitative"}, "x2": {"datum": {"year": 2022, "month": 10, "date": 30, "hours": 14, "utc": true}}, "y2": {"datum": 30.667}}},
  {"data": {"values": [{}]}, "mark": {"type": "point", "shape": "M0,0L-0.8,2.2L0.8,2.2Z", "size": 100, "filled": true, "color": "#000000", "opacity": 1, "angle": 282},
   "encoding": {"x": {"datum": {"year": 2022, "month": 7, "date": 5, "hours": 2, "utc": true}, "type": "temporal"}, "y": {"datum": 30.70, "type": "quantitative"}}},
  {"data": {"values": [{}]}, "mark": {"type": "point", "shape": "M0,0L-0.8,2.2L0.8,2.2Z", "size": 100, "filled": true, "color": "#000000", "opacity": 1, "angle": 47.5},
   "encoding": {"x": {"datum": {"year": 2022, "month": 10, "date": 14, "hours": 5, "utc": true}, "type": "temporal"}, "y": {"datum": 31.148, "type": "quantitative"}}},
  {"data": {"values": [{}]}, "mark": {"type": "point", "shape": "M0,0L-0.8,2.2L0.8,2.2Z", "size": 100, "filled": true, "color": "#000000", "opacity": 1, "angle": 75},
   "encoding": {"x": {"datum": {"year": 2022, "month": 10, "date": 30, "hours": 14, "utc": true}, "type": "temporal"}, "y": {"datum": 30.667, "type": "quantitative"}}},
  {"data": {"values": [{}]}, "mark": {"type": "text", "text": ["Baisses liées à des augmentations  temporaires du pompage sur", "un forage voisin"], "align": "left", "baseline": "middle", "font": "Liberation Serif", "fontSize": 19, "lineHeight": 20, "color": "#333333"},
   "encoding": {"x": {"datum": {"year": 2022, "month": 7, "date": 21, "hours": 10, "utc": true}, "type": "temporal"}, "y": {"datum": 30.345, "type": "quantitative"}}},
  {"data": {"values": [{}]}, "mark": {"type": "text", "text": "Indice BSS : 05086X0065", "align": "left", "baseline": "middle", "font": "Liberation Serif", "fontWeight": "bold", "fontSize": 23, "color": "#000000"},
   "encoding": {"x": {"datum": {"year": 2022, "month": 10, "date": 9, "hours": 5, "utc": true}, "type": "temporal"}, "y": {"datum": 36.535, "type": "quantitative"}}},
  {"data": {"values": [{}]}, "mark": {"type": "text", "text": "Situation au 03/10/2022", "align": "left", "baseline": "middle", "font": "Liberation Serif", "fontWeight": "bold", "fontSize": 23, "color": "#000000"},
   "encoding": {"x": {"datum": {"year": 2022, "month": 10, "date": 10, "hours": 5, "utc": true}, "type": "temporal"}, "y": {"datum": 36.264, "type": "quantitative"}}},
  {"data": {"values": [{}]}, "mark": {"type": "text", "text": "Conseil départemental  44 - DVE", "align": "left", "baseline": "middle", "font": "Liberation Sans Narrow, Liberation Sans, sans-serif", "fontSize": 14, "color": "#333333"},
   "encoding": {"x": {"datum": {"year": 2022, "month": 7, "date": 27, "hours": 2, "utc": true}, "type": "temporal"}, "y": {"datum": 29.538, "type": "quantitative"}}},
  {"data": {"values": [{}]}, "mark": {"type": "text", "text": "Origine des données : BRGM", "align": "left", "baseline": "middle", "font": "Liberation Sans Narrow, Liberation Sans, sans-serif", "fontSize": 14, "color": "#333333"},
   "encoding": {"x": {"datum": {"year": 2022, "month": 10, "date": 25, "hours": 22, "utc": true}, "type": "temporal"}, "y": {"datum": 29.538, "type": "quantitative"}}}
]
}
